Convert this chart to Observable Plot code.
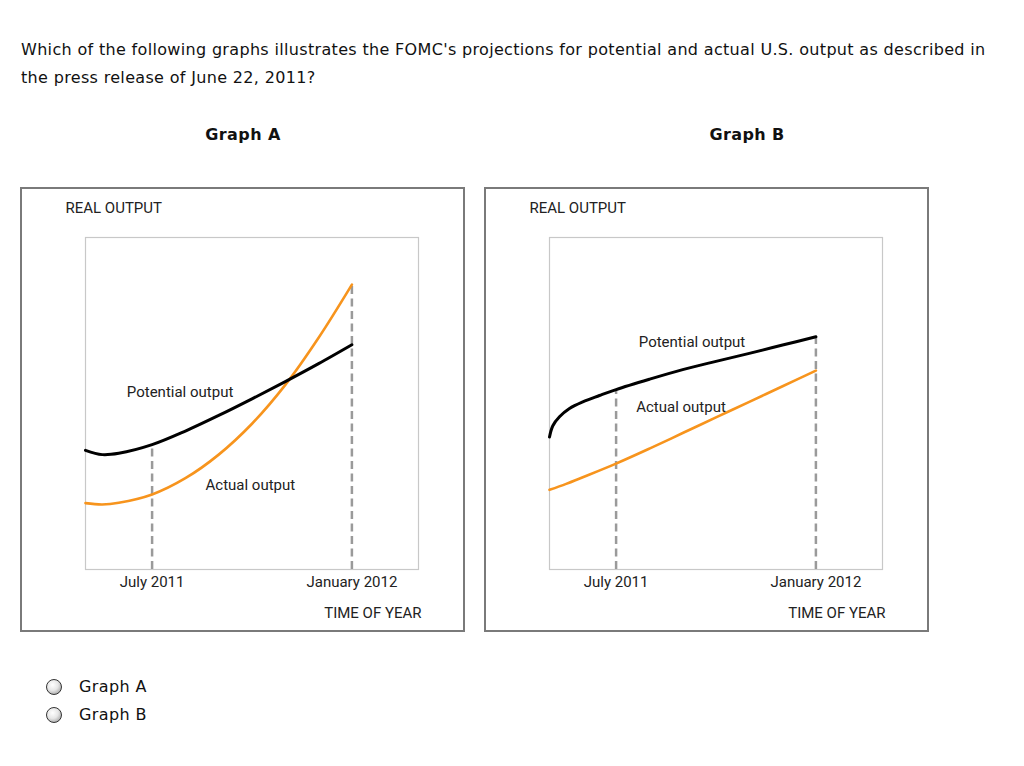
<!DOCTYPE html>
<html><head><meta charset="utf-8">
<script src="https://cdn.jsdelivr.net/npm/d3@7"></script>
<script src="https://cdn.jsdelivr.net/npm/@observablehq/plot@0.6"></script>
<style>
body{margin:0;background:#fff;width:1024px;height:766px;position:relative;overflow:hidden;font-family:"DejaVu Sans",Verdana,sans-serif;color:#111}
.q{position:absolute;left:21px;top:36px;font-size:16px;letter-spacing:0.33px;line-height:28px;white-space:nowrap}
.gt{position:absolute;top:125px;font-weight:bold;font-size:16px;letter-spacing:0.4px;transform:translateX(-50%);white-space:nowrap}
.box{position:absolute;top:187px;width:441px;height:441px;border:2px solid #7a7a7a}
.box svg{display:block}
.opt{position:absolute;left:46px;font-size:16px;letter-spacing:0.4px;white-space:nowrap}
.radio{display:inline-block;width:16px;height:16px;box-sizing:border-box;border-radius:50%;border:1.3px solid #333;background:radial-gradient(circle at 40% 35%,#fff 0%,#e6e6e6 45%,#8a8a8a 100%);vertical-align:-3px;margin-right:17px}
</style></head>
<body>
<div class="q">Which of the following graphs illustrates the FOMC's projections for potential and actual U.S. output as described in<br>the press release of June 22, 2011?</div>
<div class="gt" style="left:243px">Graph A</div>
<div class="gt" style="left:747px">Graph B</div>
<div class="box" id="boxA" style="left:20px"></div>
<div class="box" id="boxB" style="left:484px"></div>
<div class="opt" style="top:677px"><span class="radio"></span>Graph A</div>
<div class="opt" style="top:705px"><span class="radio"></span>Graph B</div>
<script>
// x in months since May 2011 (July 2011 = 2, January 2012 = 8); y = real output (arbitrary index)
const xTickVals = [2, 8];
const xTickLabels = ["July 2011", "January 2012"];
const xTitle = "TIME OF YEAR";
const yTitle = "REAL OUTPUT";

// Graph A
const aPotX = [0, 0.5, 1, 2, 3, 4, 5, 6, 7, 8];
const aPotY = [35.9, 34.6, 35.0, 37.6, 41.7, 46.4, 51.4, 56.6, 62.0, 67.7];
const aActX = [0, 0.5, 1, 2, 3, 4, 5, 6, 7, 8];
const aActY = [20.0, 19.6, 20.1, 22.6, 27.5, 34.6, 43.9, 55.6, 69.8, 85.8];
const aGuideTop = [37.6, 85.8];
const aLabelText = ["Potential output", "Actual output"];
const aLabelX = [2.84, 4.95];
const aLabelY = [53.4, 25.3];

// Graph B
const bPotX = [0, 0.1, 0.3, 0.6, 1, 1.5, 2, 3, 4, 5, 6, 7, 8];
const bPotY = [39.9, 43.3, 46.0, 48.5, 50.5, 52.4, 54.2, 57.3, 60.2, 62.7, 65.1, 67.6, 70.1];
const bActX = [0, 0.5, 1, 2, 3, 4, 5, 6, 7, 8];
const bActY = [24.0, 25.8, 27.8, 31.9, 36.4, 41.1, 45.8, 50.5, 55.2, 59.9];
const bGuideTop = [54.2, 70.1];
const bLabelText = ["Potential output", "Actual output"];
const bLabelX = [4.28, 3.95];
const bLabelY = [68.4, 48.9];

const zip = (xs, ys) => xs.map((x, i) => ({x, y: ys[i]}));

function chart(potX, potY, actX, actY, guideTop, lText, lX, lY) {
  const guides = xTickVals.map((x, i) => ({x, top: guideTop[i]}));
  const labels = lText.map((t, i) => ({t, x: lX[i], y: lY[i]}));
  return Plot.plot({
    width: 441, height: 441,
    marginLeft: 63, marginRight: 45, marginTop: 48, marginBottom: 61,
    x: {domain: [0, 10]},
    y: {domain: [0, 100], axis: null},
    style: {fontFamily: "Roboto", fontSize: "15px", background: "transparent", color: "#222", overflow: "visible"},
    marks: [
      Plot.frame({stroke: "#c8c8c8", strokeWidth: 1.2}),
      Plot.ruleX(guides, {x: "x", y1: 0, y2: "top", stroke: "#9a9a9a", strokeWidth: 2.5, strokeDasharray: "8,4.5"}),
      Plot.line(zip(actX, actY), {x: "x", y: "y", stroke: "#f7941d", strokeWidth: 2.6, curve: "catmull-rom"}),
      Plot.line(zip(potX, potY), {x: "x", y: "y", stroke: "#000", strokeWidth: 3, curve: "catmull-rom"}),
      Plot.text(labels, {x: "x", y: "y", text: "t", fontSize: 15, fill: "#222"}),
      Plot.axisX({ticks: xTickVals, tickFormat: d => xTickLabels[xTickVals.indexOf(d)], tickSize: 0, tickPadding: 7, label: null, fontSize: 15, fill: "#222"}),
      Plot.text([yTitle], {text: d => d, frameAnchor: "top-left", dx: -20, dy: -24.4, lineAnchor: "bottom", textAnchor: "start", fontSize: 15, fill: "#222"}),
      Plot.text([xTitle], {text: d => d, frameAnchor: "bottom-right", dx: 3, dy: 48, lineAnchor: "bottom", textAnchor: "end", fontSize: 15, fill: "#222"})
    ]
  });
}

document.getElementById("boxA").appendChild(chart(aPotX, aPotY, aActX, aActY, aGuideTop, aLabelText, aLabelX, aLabelY));
document.getElementById("boxB").appendChild(chart(bPotX, bPotY, bActX, bActY, bGuideTop, bLabelText, bLabelX, bLabelY));
</script>
</body></html>
